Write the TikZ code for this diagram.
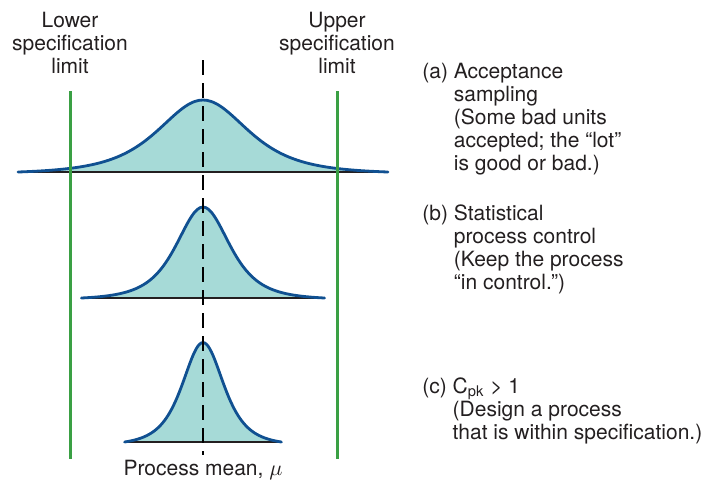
\documentclass[tikz,border=0pt]{standalone}
\usepackage{fontspec}
\setmainfont{TeX Gyre Heros}

\definecolor{bellfill}{RGB}{166,218,215}
\definecolor{bellline}{RGB}{16,80,145}
\definecolor{specgreen}{RGB}{58,160,68}
\definecolor{inkgray}{RGB}{35,31,32}

\begin{document}
\begin{tikzpicture}[x=0.5pt, y=-0.5pt,
  bellarea/.style={fill=bellfill},
  bellrim/.style={draw=bellline, line width=1.4pt, line join=round, line cap=round},
  axisline/.style={draw=inkgray, line width=0.9pt},
  speclimit/.style={draw=specgreen, line width=1.5pt},
  meanline/.style={draw=black, line width=0.75pt, dash pattern=on 7.5pt off 4pt},
  txt/.style={inner sep=0pt, text=inkgray, font=\fontsize{10.5}{11.5}\selectfont}]

\useasboundingbox (0,0) rectangle (705,484);

% the three distributions: baseline / height / spread / half range
\foreach \base/\h/\w/\u in {172/72/53/3.49, 298/91/31.5/3.86, 442/99.5/24.5/3.2} {
  \pgfmathsetmacro{\fe}{1/((1+0.414*\u*\u)*(1+0.414*\u*\u))}
  \fill[bellarea] ({203-\w*\u},\base)
    -- plot[domain=-\u:\u, samples=91, smooth]
       ({203+\w*\x},{\base-\h*(1/((1+0.414*\x*\x)*(1+0.414*\x*\x))-\fe)/(1-\fe)})
    -- ({203+\w*\u},\base) -- cycle;
  \draw[axisline] ({203-\w*\u},\base) -- ({203+\w*\u},\base);
  \draw[bellrim] plot[domain=-\u:\u, samples=91, smooth]
       ({203+\w*\x},{\base-\h*(1/((1+0.414*\x*\x)*(1+0.414*\x*\x))-\fe)/(1-\fe)});
}

\coordinate (meantop) at (203,60);
\coordinate (meanbot) at (203,455);
\draw[meanline] (meantop) -- (meanbot);

\coordinate (lsltop) at (70.5,91);
\coordinate (lslbot) at (70.5,459);
\coordinate (usltop) at (337.5,91);
\coordinate (uslbot) at (337.5,459);
\draw[speclimit] (lsltop) -- (lslbot);
\draw[speclimit] (usltop) -- (uslbot);

\node[txt, anchor=base] (lsl) at (70,27)
  {\begin{tabular}[t]{@{}c@{}}Lower\\specification\\limit\end{tabular}};
\node[txt, anchor=base] (usl) at (337,27)
  {\begin{tabular}[t]{@{}c@{}}Upper\\specification\\limit\end{tabular}};

\node[txt, anchor=base west] (accept) at (422,78)
  {\begin{tabular}[t]{@{}l@{\ }l@{}}(a)&Acceptance\\&sampling\\&(Some bad units\\&accepted; the “lot”\\&is good or bad.)\end{tabular}};
\node[txt, anchor=base west] (spc) at (422,220)
  {\begin{tabular}[t]{@{}l@{\ }l@{}}(b)&Statistical\\&process control\\&(Keep the process\\&“in control.”)\end{tabular}};
\node[txt, anchor=base west] (cpk) at (422,393)
  {\begin{tabular}[t]{@{}l@{\ }l@{}}(c)&C\textsubscript{pk} > 1\\&(Design a process\\&that is within specification.)\end{tabular}};

\node[txt, anchor=base] (pmean) at (203,475) {Process mean, $\mu$};

\end{tikzpicture}
\end{document}
